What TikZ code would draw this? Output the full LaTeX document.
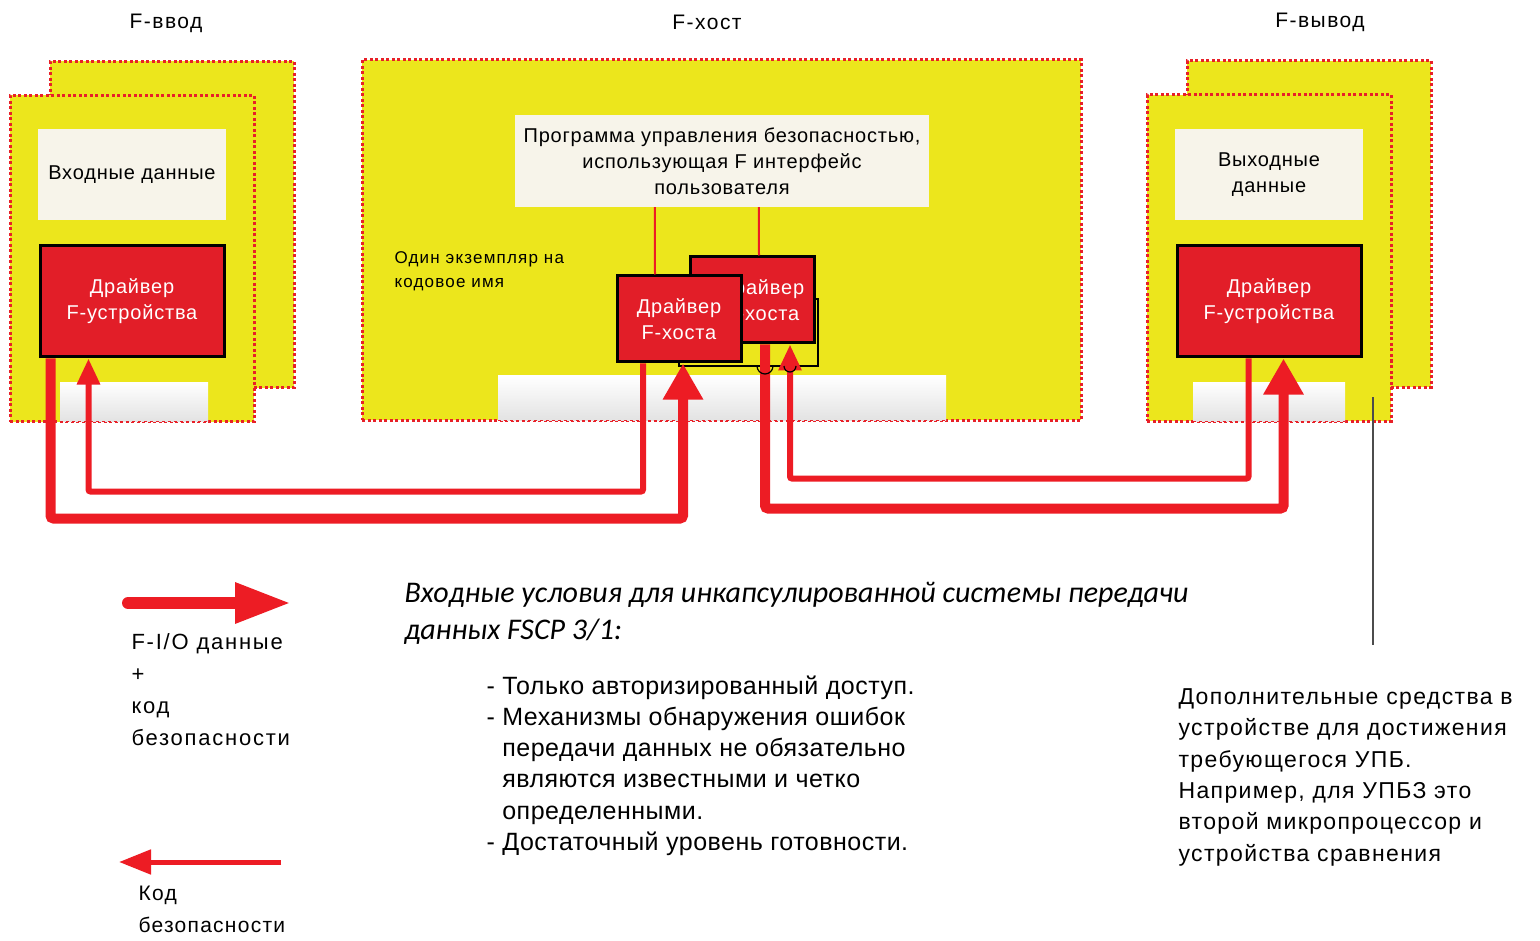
\documentclass[tikz,border=0pt]{standalone}
\usepackage{fontspec}
\setmainfont{Liberation Sans}
\newfontfamily\calfont{Carlito}
\usepackage{xcolor}
\usepackage{tikz}
\usetikzlibrary{arrows.meta,positioning,calc}

\definecolor{zoneyellow}{RGB}{236,230,28}
\definecolor{dotred}{RGB}{232,32,40}
\definecolor{drvred}{RGB}{226,30,40}
\definecolor{arrred}{RGB}{237,28,36}
\definecolor{beige}{RGB}{247,244,234}

\begin{document}
\begin{tikzpicture}[
            x=1pt, y=-1pt,
            zone/.style={draw=dotred, fill=zoneyellow, line width=3pt, dash pattern=on 3pt off 2.5pt, inner sep=0, minimum width=244pt, minimum height=326pt},
            databox/.style={fill=beige, inner sep=0, align=center, minimum width=188pt, minimum height=91pt, font=\addfontfeature{LetterSpace=4}\fontsize{20}{26}\selectfont},
            drv/.style={draw=black, line width=3pt, fill=drvred, text=white, align=center, inner sep=0, minimum width=184pt, minimum height=111pt, font=\addfontfeature{LetterSpace=4}\fontsize{20}{26}\selectfont},
            gbox/.style={top color=white, bottom color=gray!22, inner sep=0, minimum height=39pt},
            title/.style={font=\addfontfeature{LetterSpace=7}\fontsize{21}{24}\selectfont},
            flow/.style={draw=arrred, line width=10pt, -{Triangle[length=36pt,width=38pt]}, rounded corners=3pt},
            back/.style={draw=arrred, line width=6pt, -{Triangle[length=26pt,width=22pt]}, rounded corners=2pt}
        ]
            \useasboundingbox[fill=white] (0,0) rectangle (1540,941);

            \node[title] (tin) at (166,23) {F-ввод};
            \node[title] (thost) at (707,22) {F-хост};
            \node[title] (tout) at (1320,22) {F-вывод};

            % F-ввод
            \node[zone] (linback) at (172,224.5) {};
            \node[zone] (lin) at (132,258.5) {};
            \node[databox] (indata) at (132,174.5) {Входные данные};
            \node[drv] (ldrv) at (132,301.5) {Драйвер\\F-устройства};
            \node[gbox, minimum width=148pt] (lgray) at (134,401.5) {};
            \draw[dotred, thin, dashed] (lgray.south west) -- (lgray.south east);

            % F-хост
            \node[zone, minimum width=719pt, minimum height=360pt] (host) at (721.5,240) {};
            \node[databox, minimum width=414pt, minimum height=92pt] (prog) at (722,161) {Программа управления безопасностью,\\использующая F интерфейс\\пользователя};
            \node[gbox, minimum width=448pt, minimum height=44pt] (cgray) at (722,398) {};
            \draw[dotred, thin, dashed] (cgray.south west) -- (cgray.south east);
            \node[align=left, anchor=north west, font=\addfontfeature{LetterSpace=7}\fontsize{17}{24}\selectfont] (inst) at (391,248) {Один экземпляр на\\кодовое имя};
            \draw[black, line width=1.2pt] (679,299) rectangle (818,366);
            \node[drv, minimum width=124pt, minimum height=86pt] (hback) at (752,300) {\hspace*{20pt}Драйвер\\\hspace*{20pt}F-хоста};
            \node[drv, minimum width=124pt, minimum height=86pt] (hfront) at (679,319) {Драйвер\\F-хоста};
            \draw[arrred, line width=2pt] ($(prog.south west)+(140,0)$) -- ($(hfront.north)+(-24,0)$);
            \draw[arrred, line width=2pt] ($(prog.south west)+(244,0)$) -- ($(hback.north)+(7,0)$);

            % F-вывод
            \node[zone] (loutback) at (1309,224) {};
            \node[zone] (lout) at (1269,258) {};
            \node[databox] (outdata) at (1269,174.5) {Выходные\\данные};
            \node[drv] (rdrv) at (1269,301.5) {Драйвер\\F-устройства};
            \node[gbox, minimum width=152pt] (rgray) at (1269,401.5) {};
            \draw[dotred, thin, dashed] (rgray.south west) -- (rgray.south east);

            \draw[flow] ($(ldrv.south west)+(12,0)$) -- ++(0,160) -| ($(hfront.south)+(4,0)$);
            \draw[back] ($(hfront.south)+(-36,0)$) -- ++(0,128) -| ($(ldrv.south west)+(50,0)$);
            \draw[flow] ($(hback.south)+(13,0)$) -- ++(0,164) -| ($(rdrv.south west)+(108,0)$);
            \draw[back] ($(rdrv.south west)+(73,0)$) -- ++(0,120) -| ($(hback.south)+(38,0)$);
            \draw[black, line width=1.2pt] (757,366) arc (180:0:8);
            \draw[black, line width=1.2pt] (784,366) arc (180:0:6);

            % legend
            \coordinate (la1) at (128,603);
            \coordinate (la2) at (291,603);
            \draw[flow, line width=12pt, line cap=round, -{Triangle[length=56pt,width=38pt]}] (la1) -- (la2);
            \node[align=left, anchor=north west, font=\addfontfeature{LetterSpace=8}\fontsize{22}{32}\selectfont] (lega) at (128,630) {F-I/O данные\\+\\код\\безопасности};
            \coordinate (lb1) at (281,862);
            \coordinate (lb2) at (119,862);
            \draw[back, line width=5pt, -{Triangle[length=32pt,width=24pt]}] (lb1) -- (lb2);
            \node[align=left, anchor=north west, font=\addfontfeature{LetterSpace=6}\fontsize{21}{32}\selectfont] (legb) at (135,883) {Код\\безопасности};

            \node[align=left, anchor=north west, font=\calfont\itshape\fontsize{30}{37}\selectfont] (cond) at (401,579) {Входные условия для инкапсулированной системы передачи\\данных FSCP 3/1:};
            \node[align=left, anchor=north west, font=\addfontfeature{LetterSpace=2}\fontsize{25}{31.3}\selectfont] (items) at (483,672) {- Только авторизированный доступ.\\- Механизмы обнаружения ошибок\\\phantom{- }передачи данных не обязательно\\\phantom{- }являются известными и четко\\\phantom{- }определенными.\\- Достаточный уровень готовности.};

            \coordinate (ptr1) at (1373,397);
            \coordinate (ptr2) at (1373,645);
            \draw[gray!60!black, line width=2pt] (ptr1) -- (ptr2);
            \node[align=left, anchor=north west, font=\addfontfeature{LetterSpace=6}\fontsize{23}{31.4}\selectfont] (extra) at (1175,685) {Дополнительные средства в\\устройстве для достижения\\требующегося УПБ.\\Например, для УПБЗ это\\второй микропроцессор и\\устройства сравнения};
        \end{tikzpicture}
\end{document}
